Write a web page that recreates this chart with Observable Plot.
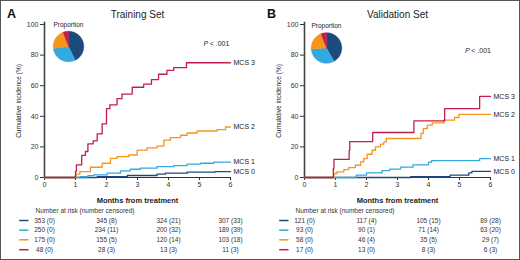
<!DOCTYPE html>
<html><head><meta charset="utf-8">
<script src="https://cdn.jsdelivr.net/npm/d3@7"></script>
<script src="https://cdn.jsdelivr.net/npm/@observablehq/plot@0.6"></script>
<style>
body{margin:0;background:#fff}
#wrap{position:relative;width:520px;height:260px;overflow:hidden;background:#fff}
#wrap svg{position:absolute;top:0}
#frame{position:absolute;left:0;top:0;width:520px;height:260px;box-sizing:border-box;border:1px solid #555;pointer-events:none}
</style></head><body>
<div id="wrap"><div id="frame"></div></div>
<script>
// ---------- data ----------
const groups = ["MCS 0", "MCS 1", "MCS 2", "MCS 3"];
const colors = ["#1d4a7c", "#34a8e0", "#f7941d", "#c01f4c"];
const tickMonths = [0, 1, 2, 3, 4, 5, 6];
const tickPct = [0, 20, 40, 60, 80, 100];
const riskMonths = [0, 2, 4, 6];

// Training set cumulative incidence step points [month, %]
const trainMCS0 = [[0,0],[1.7,0.6],[2.67,1.3],[3.63,2.2],[3.9,2.8],[4.6,3.5],[5.5,3.9],[6,3.9]];
const trainMCS1 = [[0,0],[1.15,0.5],[1.4,1.2],[1.59,1.7],[2.02,2.8],[2.45,4.3],[2.77,5.4],[3.1,6.1],[3.63,7.1],[4.17,7.8],[4.6,8.7],[5.03,9.3],[5.46,10],[6,10]];
const trainMCS2 = [[0,0],[1.02,2.2],[1.14,3.9],[1.48,6.7],[1.86,9.3],[2.13,12.5],[2.34,13.6],[2.72,14.7],[2.99,17.9],[3.31,19.4],[3.63,20.5],[3.85,24.4],[4.06,26.1],[4.39,27.6],[4.6,29.1],[4.92,30.4],[5.57,31.3],[5.84,33],[6,33]];
const trainMCS3 = [[0,0],[1.0,4],[1.03,8.2],[1.2,14.5],[1.32,17],[1.4,22],[1.57,24],[1.7,28.5],[1.86,35],[2.0,45],[2.11,47.5],[2.34,51.5],[2.5,54.5],[2.83,59],[3.2,61],[3.45,64],[3.68,67.5],[3.95,70],[4.17,71.8],[4.58,75],[6,75]];

// Validation set
const valMCS0 = [[0,0],[3.42,0.5],[4.7,1.5],[5.3,3.0],[5.4,4.0],[6,4.0]];
const valMCS1 = [[0,0],[1.67,1.5],[2.0,3.0],[2.5,4.5],[2.75,5.5],[3.1,6.8],[3.5,8.2],[4.0,10.0],[4.1,11],[5.65,12.3],[6,12.3]];
const valMCS2 = [[0,0],[0.95,2.6],[1.05,3.7],[1.27,5.2],[1.43,6.5],[1.64,8.0],[1.81,10.2],[1.91,12.4],[2.02,15.2],[2.18,17.8],[2.29,20],[2.45,21.8],[2.56,23.3],[2.64,25.5],[3.76,28.8],[3.83,32],[3.96,34.2],[4.12,35.7],[4.49,37.5],[4.84,39.2],[4.98,41.2],[6,41.2]];
const valMCS3 = [[0,0],[0.93,5.9],[0.95,11.8],[1.44,17.6],[1.46,23.5],[2.2,29.4],[3.53,37],[4.52,45],[5.65,53],[6,53]];

// Number at risk (number censored) at months 0, 2, 4, 6
const trainRisk0 = [353, 345, 324, 307], trainCens0 = [0, 8, 21, 33];
const trainRisk1 = [250, 234, 200, 189], trainCens1 = [0, 11, 32, 39];
const trainRisk2 = [175, 155, 120, 103], trainCens2 = [0, 5, 14, 18];
const trainRisk3 = [48, 28, 13, 11],     trainCens3 = [0, 3, 3, 3];
const valRisk0 = [121, 117, 105, 89], valCens0 = [0, 4, 15, 28];
const valRisk1 = [93, 90, 71, 63],    valCens1 = [0, 1, 14, 20];
const valRisk2 = [58, 46, 35, 29],    valCens2 = [0, 4, 5, 7];
const valRisk3 = [17, 13, 8, 6],      valCens3 = [0, 0, 3, 3];

// ---------- layout ----------
const W = 260, H = 260, mL = 44, mR = 30, mT = 24, mB = 83;
const kx = (W - mL - mR) / 6;      // px per month
const ky = (H - mT - mB) / 100;    // px per %
const rowDy = [43, 52.7, 62.3, 72.2];
const FONT = "'Liberation Sans', Arial, Helvetica, sans-serif";

function pieMarks(counts, cx, cy, r) {
  // cx, cy: pixel center within the panel; converted into data space
  const mx = (cx - mL) / kx, my = (H - mB - cy) / ky;
  const total = d3.sum(counts);
  const marks = [];
  let a0 = 0;
  counts.forEach((c, i) => {
    const a1 = a0 + (c / total) * 2 * Math.PI;
    const n = Math.max(2, Math.ceil((a1 - a0) / 0.05));
    const pts = [[mx, my]];
    for (let k = 0; k <= n; k++) {
      const a = a0 + (a1 - a0) * k / n;
      pts.push([mx + r * Math.sin(a) / kx, my + r * Math.cos(a) / ky]);
    }
    pts.push([mx, my]);
    marks.push(Plot.line(pts, {x: d => d[0], y: d => d[1], fill: colors[i], stroke: colors[i], strokeWidth: 0.4, curve: "linear"}));
    a0 = a1;
  });
  return marks;
}

function panel(cfg) {
  const marks = [];
  // axis lines
  marks.push(Plot.ruleX([0], {y1: 0, y2: 101.5, stroke: "#444", strokeWidth: 1.6}));
  marks.push(Plot.ruleY([0], {x1: () => 0, x2: () => 6, stroke: "#333", strokeWidth: 1.2}));
  // curves
  cfg.series.forEach((s, i) => {
    marks.push(Plot.line(s, {x: d => d[0], y: d => d[1], curve: "step-after", stroke: colors[i], strokeWidth: 1.3}));
  });
  // end labels
  cfg.series.forEach((s, i) => {
    const last = s[s.length - 1];
    marks.push(Plot.text([last], {x: d => d[0], y: d => d[1], text: () => groups[i], dx: 3, textAnchor: "start", lineAnchor: "middle", fontSize: 7, fill: "#222"}));
  });
  // P value
  marks.push(Plot.text(["P"], {x: () => cfg.pPos[0], y: () => cfg.pPos[1], text: d => d, textAnchor: "start", lineAnchor: "middle", fontStyle: "italic", fontSize: 7, fill: "#222"}));
  marks.push(Plot.text(["< .001"], {x: () => cfg.pPos[0] + 6.2 / kx, y: () => cfg.pPos[1], text: d => d, textAnchor: "start", lineAnchor: "middle", fontSize: 7, fill: "#222"}));
  // pie + label
  marks.push(...pieMarks(cfg.pie, cfg.pieC[0], cfg.pieC[1], 15.3));
  marks.push(Plot.text(["Proportion"], {x: () => (cfg.pieC[0] - mL) / kx, y: () => 100, dy: cfg.pieLabelDy, text: d => d, textAnchor: "middle", lineAnchor: "middle", fontSize: 6.5, fill: "#222"}));
  // titles
  marks.push(Plot.text([cfg.title], {frameAnchor: "top", dy: -10, text: d => d, textAnchor: "middle", lineAnchor: "middle", fontSize: 10, fill: "#222"}));
  marks.push(Plot.text([cfg.letter], {frameAnchor: "top-left", dx: -33, dy: -11, text: d => d, textAnchor: "middle", lineAnchor: "middle", fontSize: 12.5, fontWeight: "bold", fill: "#111"}));
  marks.push(Plot.text(["Months from treatment"], {frameAnchor: "bottom", dy: 23, text: d => d, textAnchor: "middle", lineAnchor: "middle", fontSize: 7.5, fontWeight: "bold", fontFamily: "'Liberation Sans Narrow', 'Liberation Sans', Arial, sans-serif", fill: "#222"}));
  marks.push(Plot.text(["Cumulative incidence (%)"], {frameAnchor: "left", dx: -26, rotate: -90, text: d => d, textAnchor: "middle", lineAnchor: "middle", fontSize: 6.5, fill: "#222"}));
  // risk table
  marks.push(Plot.text(["Number at risk (number censored)"], {frameAnchor: "bottom-left", dx: -9, dy: 33, textAnchor: "start", lineAnchor: "middle", text: d => d, fontSize: 6.5, fill: "#333"}));
  cfg.risk.forEach((row, r) => {
    const cells = riskMonths.map((m, j) => ({m, label: `${row[j]} (${cfg.cens[r][j]})`}));
    marks.push(Plot.text(cells, {x: "m", text: "label", frameAnchor: "bottom", dy: rowDy[r], textAnchor: "middle", lineAnchor: "middle", fontSize: 6.5, fill: "#333"}));
    marks.push(Plot.ruleY([0], {x1: () => -0.8, x2: () => -0.5, dy: rowDy[r], stroke: colors[r], strokeWidth: 1.5}));
  });
  return Plot.plot({
    width: W, height: H,
    marginLeft: mL, marginRight: mR, marginTop: mT, marginBottom: mB,
    style: {fontFamily: FONT, fontSize: "7px", color: "#333", background: "transparent", overflow: "visible"},
    x: {domain: [0, 6], ticks: tickMonths, tickFormat: d => String(d), tickSize: 3, tickPadding: 2, label: null},
    y: {domain: [0, 100], ticks: tickPct, tickFormat: d => String(d), tickSize: 4, tickPadding: 2, label: null},
    marks
  });
}

const A = panel({
  letter: "A", title: "Training Set",
  series: [trainMCS0, trainMCS1, trainMCS2, trainMCS3],
  risk: [trainRisk0, trainRisk1, trainRisk2, trainRisk3],
  cens: [trainCens0, trainCens1, trainCens2, trainCens3],
  pie: [trainRisk0[0], trainRisk1[0], trainRisk2[0], trainRisk3[0]],
  pieC: [68, 46], pieLabelDy: 0, pPos: [5.13, 87.6]
});
const B = panel({
  letter: "B", title: "Validation Set",
  series: [valMCS0, valMCS1, valMCS2, valMCS3],
  risk: [valRisk0, valRisk1, valRisk2, valRisk3],
  cens: [valCens0, valCens1, valCens2, valCens3],
  pie: [valRisk0[0], valRisk1[0], valRisk2[0], valRisk3[0]],
  pieC: [66, 47.5], pieLabelDy: 1.7, pPos: [5.18, 83]
});
A.style.left = "0px";
B.style.left = "260px";
const wrap = document.getElementById("wrap");
wrap.insertBefore(B, wrap.firstChild);
wrap.insertBefore(A, wrap.firstChild);
</script>
</body></html>
